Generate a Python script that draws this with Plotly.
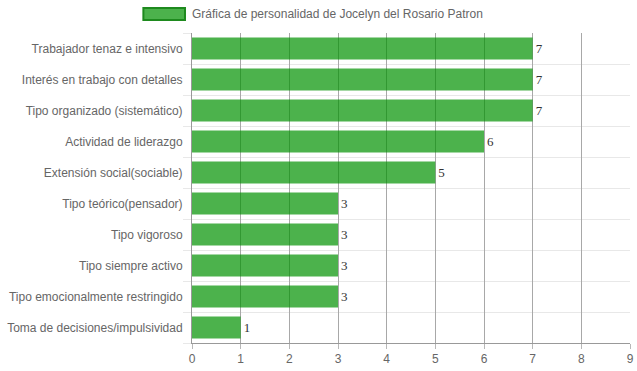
import plotly.graph_objects as go

categories = [
    "Trabajador tenaz e intensivo",
    "Interés en trabajo con detalles",
    "Tipo organizado (sistemático)",
    "Actividad de liderazgo",
    "Extensión social(sociable)",
    "Tipo teórico(pensador)",
    "Tipo vigoroso",
    "Tipo siempre activo",
    "Tipo emocionalmente restringido",
    "Toma de decisiones/impulsividad",
]
values = [7, 7, 7, 6, 5, 3, 3, 3, 3, 1]
series_name = "Gráfica de personalidad de Jocelyn del Rosario Patron"
x_ticks = list(range(0, 10))

idx = list(range(len(categories)))
bar_color = "rgba(0,145,0,0.7)"
font_family = "Liberation Sans, Arial, sans-serif"

fig = go.Figure()
fig.add_trace(go.Bar(
    x=values,
    y=idx,
    orientation="h",
    name=series_name,
    marker=dict(color=bar_color, line=dict(width=0)),
    text=[str(v) for v in values],
    textposition="outside",
    textfont=dict(family="Liberation Serif, Times New Roman, serif", size=13, color="#333"),
    cliponaxis=False,
    showlegend=False,
    hoverinfo="x+y",
))

fig.update_layout(
    width=637, height=371,
    margin=dict(l=192, r=7, t=33, b=28),
    plot_bgcolor="white", paper_bgcolor="white",
    bargap=0.29,
    font=dict(family=font_family, size=12, color="#666"),
    xaxis=dict(
        range=[0, 9.0001], tickmode="array", tickvals=x_ticks,
        showgrid=True, gridcolor="#a8a8a8", gridwidth=1,
        zeroline=False,
        showline=True, linecolor="#999", linewidth=1,
        ticks="outside", ticklen=5, tickcolor="#b8b8b8",
        tickfont=dict(size=12, color="#666"),
        automargin=False,
        fixedrange=True,
    ),
    yaxis=dict(
        range=[len(categories) - 0.5, -0.5],
        tickmode="array", tickvals=idx, ticktext=categories,
        showgrid=False, zeroline=False,
        showline=True, linecolor="#999", linewidth=1,
        ticks="outside", ticklen=6, tickcolor="rgba(0,0,0,0)",
        tickfont=dict(size=12, color="#666"),
        minor=dict(
            tickvals=[i - 0.5 for i in idx] + [len(categories) - 0.5],
            showgrid=True, gridcolor="#e8e8e8", gridwidth=1,
            ticks="outside", ticklen=8, tickcolor="#e8e8e8",
        ),
        automargin=False,
        fixedrange=True,
    ),
    shapes=[dict(
        type="rect", xref="paper", yref="paper",
        x0=-0.111, x1=-0.016, y0=1.042, y1=1.081,
        fillcolor=bar_color, line=dict(color="#1E8A1E", width=2),
    )],
    annotations=[dict(
        xref="paper", yref="paper", x=-0.005, y=1.061,
        xanchor="left", yanchor="middle", showarrow=False,
        text=series_name, font=dict(size=12, color="#666"),
    )],
)

fig.write_html("out.html", config={"displayModeBar": False},
               post_script="document.body.style.margin='0';")
